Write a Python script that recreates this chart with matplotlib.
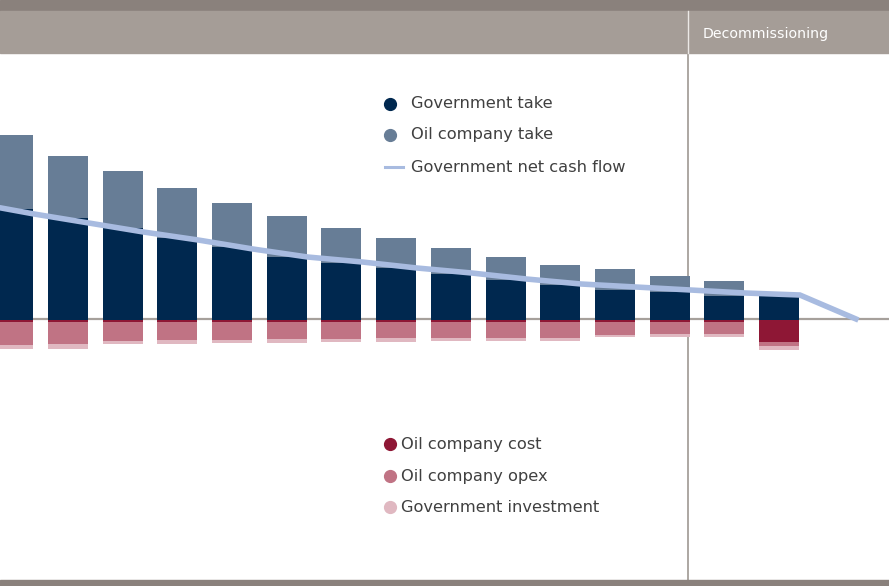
import matplotlib
matplotlib.use("Agg")
import matplotlib.pyplot as plt
from matplotlib.patches import Rectangle
from matplotlib.lines import Line2D
import numpy as np

# ---- data (units arbitrary) ----
years = list(range(15))
government_take = [11.1, 10.2, 9.2, 8.2, 7.3, 6.3, 5.7, 5.2, 4.6, 4.0, 3.5, 3.0, 2.8, 2.4, 2.7]
oil_company_take = [7.4, 6.2, 5.7, 5.0, 4.4, 4.1, 3.5, 3.0, 2.6, 2.3, 2.0, 2.1, 1.6, 1.5, 0.0]
oil_company_cost = [0.2, 0.2, 0.2, 0.2, 0.2, 0.2, 0.2, 0.2, 0.2, 0.2, 0.2, 0.2, 0.2, 0.2, 2.2]
oil_company_opex = [2.3, 2.2, 1.9, 1.8, 1.8, 1.7, 1.7, 1.6, 1.6, 1.6, 1.6, 1.3, 1.2, 1.2, 0.4]
government_investment = [0.4, 0.5, 0.3, 0.4, 0.3, 0.4, 0.3, 0.4, 0.3, 0.3, 0.3, 0.2, 0.3, 0.3, 0.4]
net_cf_x = [-0.62, 0.38, 1.38, 2.38, 3.38, 4.38, 5.38, 6.38, 7.38, 8.38, 9.38,
            10.38, 11.38, 12.38, 13.38, 14.38, 15.45]
government_net_cash_flow = [11.6, 10.6, 9.7, 8.8, 8.0, 7.1, 6.3, 5.8, 5.2, 4.7, 4.1,
                            3.6, 3.3, 3.0, 2.7, 2.5, 0.0]
decommissioning_start = 12.34

legend_top = ["Government take", "Oil company take", "Government net cash flow"]
legend_bottom = ["Oil company cost", "Oil company opex", "Government investment"]

# ---- colours ----
C_NAVY = "#00284f"
C_OILTAKE = "#677d96"
C_LINE = "#a8bbe0"
C_COST = "#8e1735"
C_OPEX = "#c07384"
C_INV = "#e0b8c1"
C_BAND_DARK = "#8a817c"
C_BAND_LIGHT = "#a59d97"
C_AXIS = "#a6a09b"
C_TEXT = "#404040"

W, H = 889, 586
fig = plt.figure(figsize=(W / 100, H / 100), dpi=100)
fx = lambda x: x / W
fy = lambda y: 1 - y / H

ax = fig.add_axes([0, fy(580), 1, (580 - 53) / H])
x = np.array(years)
bw = 0.731
gt = np.array(government_take)
ot = np.array(oil_company_take)
cost = np.array(oil_company_cost)
opex = np.array(oil_company_opex)
inv = np.array(government_investment)

ax.axhline(0.15, color=C_AXIS, lw=1.6, zorder=1)
ax.bar(x, gt, width=bw, color=C_NAVY, zorder=2)
ax.bar(x, ot, width=bw, bottom=gt, color=C_OILTAKE, zorder=2)
ax.bar(x, -cost, width=bw, color=C_COST, zorder=2)
ax.bar(x, -opex, width=bw, bottom=-cost, color=C_OPEX, zorder=2)
ax.bar(x, -inv, width=bw, bottom=-cost - opex, color=C_INV, zorder=2)
ax.plot(net_cf_x, government_net_cash_flow, color=C_LINE, lw=4, zorder=3,
        solid_joinstyle="miter", solid_capstyle="butt")
ax.axvline(decommissioning_start, color=C_AXIS, lw=1.3, zorder=1.5)

ax.set_xlim(-0.243, 16.01)
ax.set_ylim(-26.0, 26.7)
ax.axis("off")

# ---- bands ----
fig.patches.append(Rectangle((0, fy(11)), 1, 11 / H, transform=fig.transFigure,
                             color=C_BAND_DARK, zorder=0))
fig.patches.append(Rectangle((0, fy(53)), 1, 42 / H, transform=fig.transFigure,
                             color=C_BAND_LIGHT, zorder=0))
fig.patches.append(Rectangle((0, 0), 1, 6 / H, transform=fig.transFigure,
                             color=C_BAND_DARK, zorder=0))
fig.lines.append(Line2D([fx(688), fx(688)], [fy(11), fy(53)], transform=fig.transFigure,
                        color="#ece9e6", lw=1.0))
fig.text(fx(703), fy(34), "Decommissioning", color="white", fontsize=10.2,
         fontweight="normal", va="center", ha="left")

# ---- legends ----
top_colors = [C_NAVY, C_OILTAKE, C_LINE]
for i, (lab, col) in enumerate(zip(legend_top, top_colors)):
    yy = [104, 135, 167][i]
    if i < 2:
        fig.lines.append(Line2D([fx(390)], [fy(yy)], transform=fig.transFigure,
                                marker="o", ms=8.5, color=col, mec=col, ls="none"))
    else:
        fig.lines.append(Line2D([fx(385), fx(403)], [fy(yy), fy(yy)],
                                transform=fig.transFigure, color=col, lw=2.2))
    fig.text(fx(411), fy(yy), lab, color=C_TEXT, fontsize=11.7, va="center", ha="left")

bot_colors = [C_COST, C_OPEX, C_INV]
for i, (lab, col) in enumerate(zip(legend_bottom, bot_colors)):
    yy = [444, 476, 507][i]
    fig.lines.append(Line2D([fx(390)], [fy(yy)], transform=fig.transFigure,
                            marker="o", ms=8.5, color=col, mec=col, ls="none"))
    fig.text(fx(401), fy(yy), lab, color=C_TEXT, fontsize=11.7, va="center", ha="left")

fig.savefig("out.png", dpi=100)
